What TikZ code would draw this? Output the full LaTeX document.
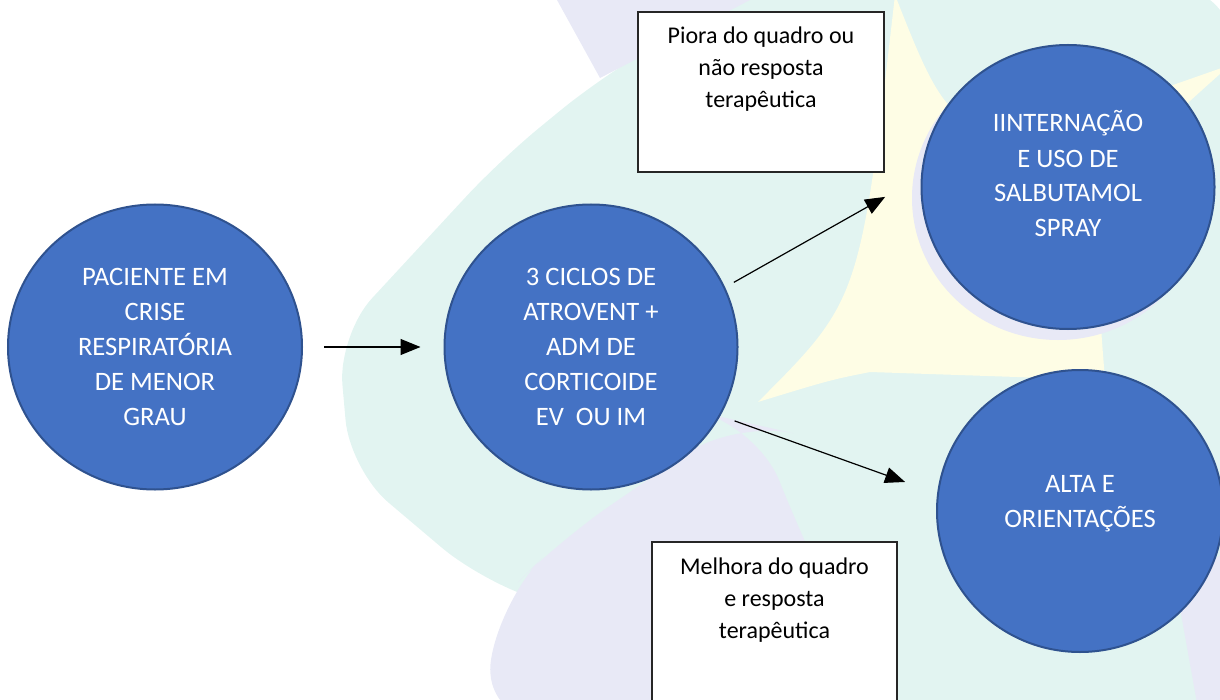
\documentclass[tikz,border=0pt]{standalone}
\usepackage{fontspec}
\setmainfont{Carlito}
\usetikzlibrary{arrows.meta,shapes.geometric}

\definecolor{stageblue}{HTML}{4472C4}
\definecolor{stageedge}{HTML}{2F528F}
\definecolor{washcyan}{RGB}{226,244,241}
\definecolor{washlilac}{RGB}{232,233,246}
\definecolor{washyellow}{RGB}{254,253,229}

\begin{document}
\begin{tikzpicture}[x=0.5pt,y=-0.5pt,>={Triangle[length=10pt,width=8pt]}]
    \tikzstyle{stage}=[ellipse, draw=stageedge, line width=1pt, fill=stageblue,
        text=white, align=center, inner sep=0pt, text depth=0pt,
        font=\fontsize{13.3pt}{17.5pt}\selectfont]
    \tikzstyle{note}=[draw=black!85, line width=0.6pt, fill=white, align=center,
        minimum width=123pt, minimum height=80pt, inner sep=0pt,
        text height=16pt, text depth=0pt, font=\fontsize{12pt}{16pt}\selectfont]
    \tikzstyle{flow}=[->, line width=0.6pt]

    \useasboundingbox (0,0) rectangle (1220,700);

    % Background wash
    \fill[washcyan, rounded corners=25pt] (600,78) -- (500,160) -- (338,335)
        -- (350,470) -- (480,580) -- (900,720) -- (1230,720) -- (1230,-10)
        -- (750,-10) -- cycle;
    \fill[washlilac] (557,0) -- (600,78) -- (750,0) -- cycle;
    \fill[washlilac, rounded corners=30pt] (482,720) -- (500,600) -- (560,540)
        -- (735,420) -- (757,425) -- (803,540) -- (890,720) -- cycle;
    \fill[washlilac] (1175,580) -- (1230,550) -- (1230,720) -- (1200,720) -- cycle;
    \fill[washyellow] (895,-5) .. controls (960,160) .. (1230,65)
        .. controls (1090,190) .. (1105,380) -- (870,372)
        .. controls (830,380) .. (758,402) .. controls (860,300) .. (895,-5);
    \fill[washlilac] (1058,198) ellipse [x radius=73pt, y radius=71pt];

    % Stages
    \node[stage, minimum width=147pt, minimum height=142.5pt, text height=78pt]
        (patient) at (155,347) {PACIENTE EM\\CRISE\\RESPIRATÓRIA\\DE MENOR\\GRAU};
    \node[stage, minimum width=146.5pt, minimum height=142.5pt, text height=78pt]
        (cycles) at (591,347) {3 CICLOS DE\\ATROVENT +\\ADM DE\\CORTICOIDE\\EV\ \ OU IM};
    \node[stage, minimum width=146.5pt, minimum height=142pt, text height=50pt]
        (admit) at (1068,187) {IINTERNAÇÃO\\E USO DE\\SALBUTAMOL\\SPRAY};
    \node[stage, minimum width=143pt, minimum height=141pt, text height=16pt]
        (discharge) at (1080,511) {ALTA E\\ORIENTAÇÕES};

    % Notes
    \node[note] (worse) at (761,92) {Piora do quadro ou\\não resposta\\terapêutica};
    \node[note, minimum width=122.5pt] (better) at (774.5,622)
        {Melhora do quadro\\e resposta\\terapêutica};

    % Flow
    \draw[flow, shorten <=10.5pt, shorten >=11.5pt] (patient.east) -- (cycles.west);
    \draw[flow, shorten <=5pt, shorten >=20.5pt] (cycles.24) -- (admit.176);
    \draw[flow, shorten <=7.5pt, shorten >=17pt] (cycles.-28) -- (discharge.173);
\end{tikzpicture}
\end{document}
